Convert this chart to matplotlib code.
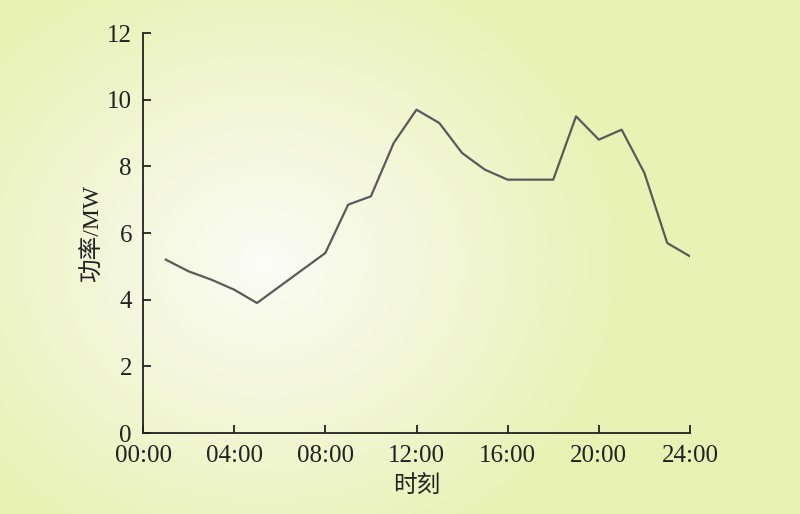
import numpy as np
import matplotlib
matplotlib.use("Agg")
import matplotlib.pyplot as plt
from matplotlib.colors import LinearSegmentedColormap

hours = [1, 2, 3, 4, 5, 6, 7, 8, 9, 10, 11, 12, 13, 14, 15, 16, 17, 18, 19, 20, 21, 22, 23, 24]
power = [5.2, 4.85, 4.6, 4.3, 3.9, 4.4, 4.9, 5.4, 6.85, 7.1, 8.7, 9.7, 9.3, 8.4, 7.9, 7.6, 7.6, 7.6, 9.5, 8.8, 9.1, 7.8, 5.7, 5.3]
xticks = [0, 4, 8, 12, 16, 20, 24]
xticklabels = ["00:00", "04:00", "08:00", "12:00", "16:00", "20:00", "24:00"]
yticks = [0, 2, 4, 6, 8, 10, 12]

plt.rcParams['font.family'] = ['Liberation Serif', 'Noto Sans CJK SC', 'DejaVu Sans']

W, H = 800, 514
fig = plt.figure(figsize=(W / 100, H / 100), dpi=100)

# background radial gradient
bg = fig.add_axes([0, 0, 1, 1])
yy, xx = np.mgrid[0:H, 0:W]
cx, cy = 265, 262
r = np.sqrt(((xx - cx) / 1.15) ** 2 + (yy - cy) ** 2)
t = np.clip(r / 320.0, 0, 1) ** 0.85
cmap = LinearSegmentedColormap.from_list("bg", ["#fcfdf7", "#f3f7da", "#e8f2b4"])
bg.imshow(t, cmap=cmap, vmin=0, vmax=1, aspect='auto', extent=[0, W, H, 0])
bg.axis('off')

ax = fig.add_axes([143 / W, (H - 433) / H, (690 - 143) / W, (433 - 33) / H])
ax.patch.set_alpha(0)
ax.plot(hours, power, color='#5a5a5a', lw=1.6)
ax.set_xlim(0, 24)
ax.set_ylim(0, 12)
ax.set_xticks(xticks)
ax.set_xticklabels(xticklabels)
ax.set_yticks(yticks)
for s in ['top', 'right']:
    ax.spines[s].set_visible(False)
for s in ['left', 'bottom']:
    ax.spines[s].set_color('#222222')
    ax.spines[s].set_linewidth(1.3)
ax.tick_params(direction='in', length=6, width=1.3, color='#222222', labelsize=18, labelcolor='#222222')
ax.tick_params(axis='x', pad=9)
ax.tick_params(axis='y', pad=8)
ax.set_xlabel("时刻", fontsize=17, color='#222222', labelpad=6)
ax.set_ylabel("功率/MW", fontsize=17, color='#222222', labelpad=2)

fig.savefig("out.png", dpi=100)
